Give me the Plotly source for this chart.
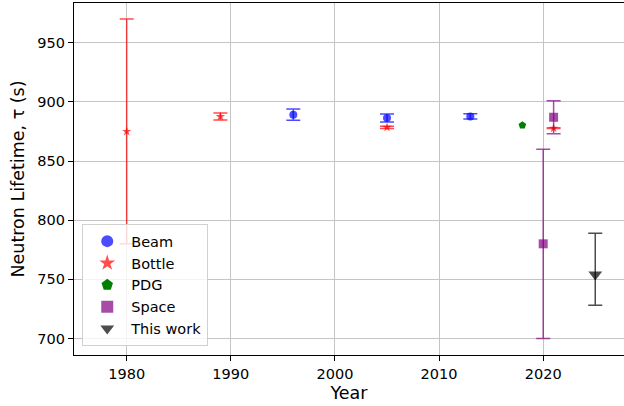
import plotly.graph_objects as go

# Neutron lifetime measurements grouped by technique
beam_year = [1996, 2005, 2013]
beam_tau = [889.2, 886.3, 887.7]
beam_err = [4.8, 3.4, 2.2]

bottle_year = [1980, 1989, 2005, 2021]
bottle_tau = [875.0, 887.6, 878.5, 877.75]
bottle_err = [95.0, 3.0, 1.0, 0.34]

pdg_year = [2018]
pdg_tau = [880.2]
pdg_err = [1.0]

space_year = [2020, 2021]
space_tau = [780.0, 887.0]
space_err = [80.0, 14.0]

work_year = [2025]
work_tau = [754.0]
work_err_plus = [35.0]
work_err_minus = [26.0]

x_ticks = [1980, 1990, 2000, 2010, 2020]
y_ticks = [700, 750, 800, 850, 900, 950]

FONT = "DejaVu Sans"

fig = go.Figure()


def add_series(name, xs, ys, err, color, symbol, size, cap=7, err_minus=None):
    ey = dict(type="data", array=err, color=color, thickness=1.5, width=cap, visible=True)
    if err_minus is not None:
        ey["symmetric"] = False
        ey["arrayminus"] = err_minus
    fig.add_trace(go.Scatter(
        x=xs, y=ys, mode="markers", name=name,
        marker=dict(symbol=symbol, size=size, color=color, line=dict(width=0)),
        error_y=ey,
    ))


add_series("Beam", beam_year, beam_tau, beam_err, "rgba(0,0,255,0.7)", "circle", 8)
add_series("Bottle", bottle_year, bottle_tau, bottle_err, "rgba(255,0,0,0.7)", "star", 7)
add_series("PDG", pdg_year, pdg_tau, pdg_err, "rgb(0,128,0)", "pentagon", 8, cap=0)
add_series("Space", space_year, space_tau, space_err, "rgba(128,0,128,0.7)", "square", 9)
add_series("This work", work_year, work_tau, work_err_plus, "rgba(0,0,0,0.7)",
           "triangle-down", 12, err_minus=work_err_minus)

axis_common = dict(
    showgrid=True, gridcolor="#c4c4c4", gridwidth=1,
    zeroline=False, showline=True, linecolor="black", linewidth=1.2,
    ticks="outside", ticklen=5, tickwidth=1, tickcolor="black",
    tickfont=dict(family=FONT, size=14.5, color="black"),
)

fig.update_layout(
    width=624, height=406,
    margin=dict(l=74, r=0, t=3, b=51),
    paper_bgcolor="white", plot_bgcolor="white",
    font=dict(family=FONT, color="black"),
    xaxis=dict(
        range=[1974.94, 2027.76], tickvals=x_ticks, mirror=True,
        title=dict(text="Year", font=dict(family=FONT, size=17.5), standoff=6),
        **axis_common,
    ),
    yaxis=dict(
        range=[686.0, 983.6], tickvals=y_ticks, mirror=False,
        title=dict(text="Neutron Lifetime, τ (s)", font=dict(family=FONT, size=17.5), standoff=8),
        **axis_common,
    ),
    legend=dict(
        x=0.015, y=0.025, xanchor="left", yanchor="bottom",
        bgcolor="rgba(255,255,255,0.8)", bordercolor="#d0d0d0", borderwidth=1,
        font=dict(family=FONT, size=14.5, color="black"),
        tracegroupgap=0, itemsizing="constant", itemwidth=38,
    ),
    showlegend=True,
)

fig.write_html("out.html")
